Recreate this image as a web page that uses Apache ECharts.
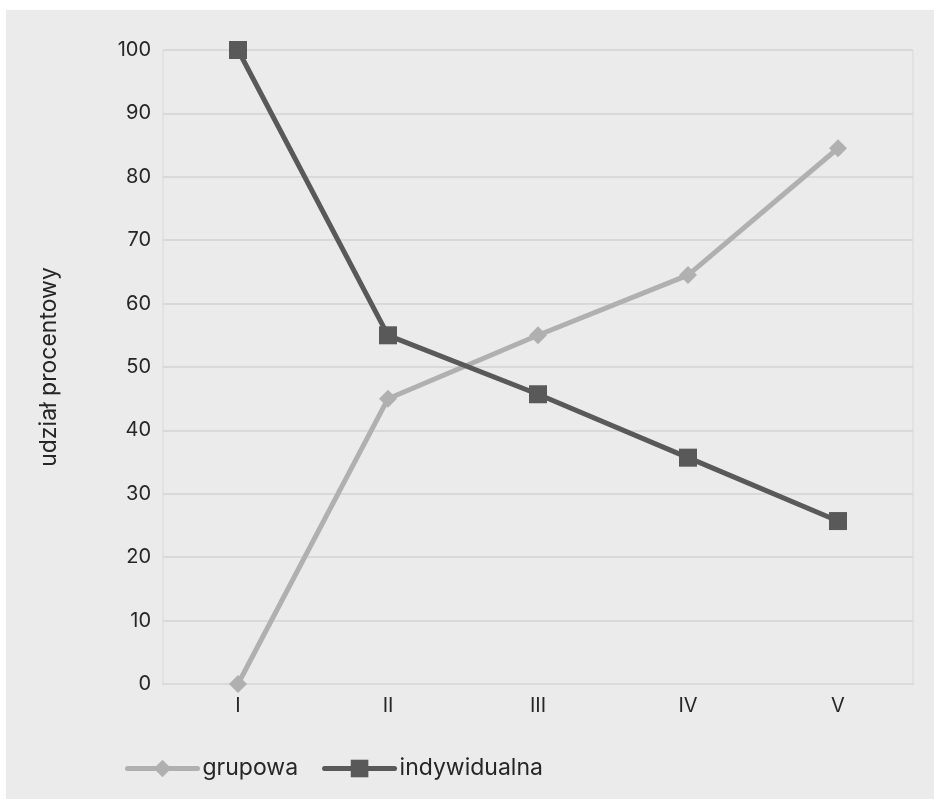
<!DOCTYPE html>
<html><head><meta charset="utf-8">
<script src="https://cdn.jsdelivr.net/npm/echarts@6/dist/echarts.min.js"></script>
<style>
html,body{margin:0;padding:0;background:#fff;width:934px;height:799px;overflow:hidden}
#bg{position:absolute;left:6px;top:10px;width:928px;height:789px;background:#ebebeb}
#chart{position:absolute;left:0;top:0;width:934px;height:799px}
</style></head>
<body><div id="bg"></div><div id="chart"></div>
<script>
const categories = ['I','II','III','IV','V'];
const grupowa = [0, 45, 55, 64.5, 84.5];
const indywidualna = [100, 55, 45.7, 35.7, 25.7];
const yTitle = 'udział procentowy';

const font = 'Inter';
const chart = echarts.init(document.getElementById('chart'), null, {renderer:'canvas'});
chart.setOption({
  backgroundColor: 'transparent',
  animation: false,
  textStyle: {fontFamily: font},
  grid: {left: 163, right: 21, top: 50, bottom: 115, show: true, borderColor: '#d9d9d9', borderWidth: 1, backgroundColor: 'transparent'},
  xAxis: {
    type: 'category', data: categories, boundaryGap: true,
    axisLine: {show: true, lineStyle: {color: '#d9d9d9', width: 2}},
    axisTick: {show: false},
    axisLabel: {color: '#262626', fontSize: 20, margin: 12, fontFamily: font}
  },
  yAxis: {
    type: 'value', min: 0, max: 100, interval: 10,
    name: yTitle, nameLocation: 'middle', nameGap: 102, nameRotate: 90,
    nameTextStyle: {color: '#262626', fontSize: 23, fontFamily: font, padding: [0,0,0,0]},
    axisLine: {show: false}, axisTick: {show: false},
    axisLabel: {color: '#262626', fontSize: 20, margin: 12, fontFamily: font},
    splitLine: {lineStyle: {color: '#d9d9d9', width: 2}}
  },
  legend: {
    left: 120, top: 752, itemWidth: 70, itemHeight: 22, itemGap: 24,
    lineStyle: {width: 5, cap: 'round'},
    textStyle: {color: '#262626', fontSize: 23, fontFamily: font},
    data: ['grupowa','indywidualna']
  },
  series: [
    {name: 'grupowa', type: 'line', data: grupowa, symbol: 'diamond', symbolSize: 18,
     lineStyle: {color: '#b0b0b0', width: 5}, itemStyle: {color: '#b0b0b0'}, z: 2},
    {name: 'indywidualna', type: 'line', data: indywidualna, symbol: 'rect', symbolSize: 18,
     lineStyle: {color: '#595959', width: 5}, itemStyle: {color: '#595959'}, z: 3}
  ]
});
</script></body></html>
